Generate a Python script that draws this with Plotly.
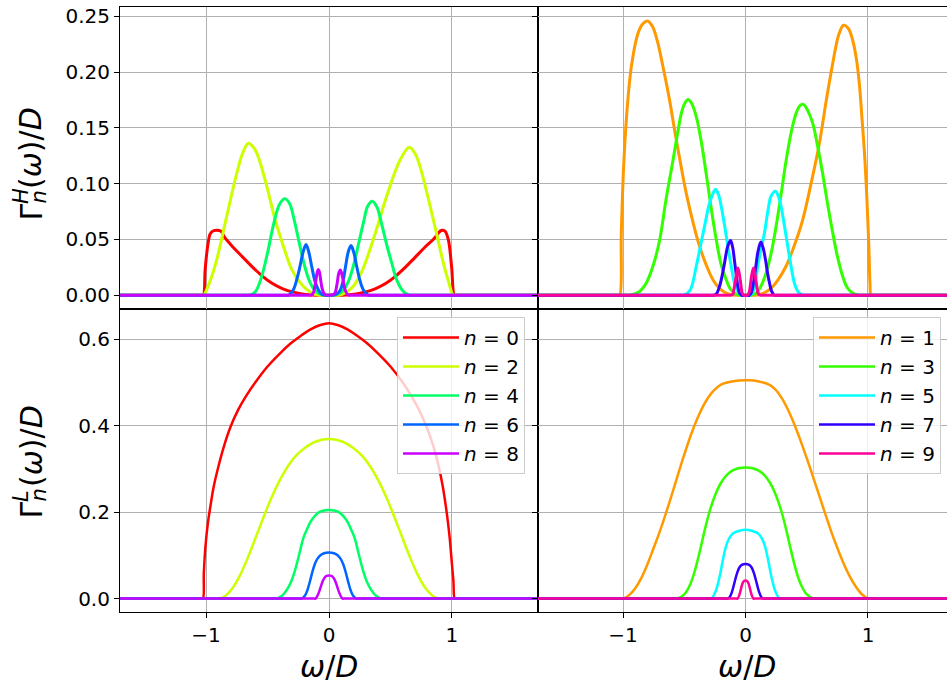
import plotly.graph_objects as go

# ---------------------------------------------------------------------------
# Hybridisation functions of the first Wilson-chain sites, split into the
# "high" (H) and "low" (L) energy parts.  Values given as (omega/D, Gamma/D).
# ---------------------------------------------------------------------------
xticks = [-1, 0, 1]
yticks_H = [0.00, 0.05, 0.10, 0.15, 0.20, 0.25]
yticks_L = [0.0, 0.2, 0.4, 0.6]

# ---- Gamma^H, even sites ----
w_H0 = [-1.7, -1.035, -1.022, -1.008, -0.994, -0.98, -0.967, -0.94, -0.913, -0.88, -0.85, -0.78, -0.70, -0.62,
        -0.54, -0.46, -0.38, -0.30, -0.22, -0.14, -0.07, 0.0, 0.07, 0.14, 0.22, 0.30, 0.38, 0.46, 0.54, 0.62,
        0.70, 0.78, 0.848, 0.913, 0.943, 0.970, 0.997, 1.019, 1.03, 1.7]
g_H0 = [0.0, 0.0, 0.0, 0.022, 0.038, 0.049, 0.055, 0.0578, 0.0583, 0.0575, 0.052, 0.043, 0.034, 0.025,
        0.017, 0.0105, 0.006, 0.003, 0.0012, 0.0003, 0.0, 0.0, 0.0, 0.0003, 0.0012, 0.003, 0.006, 0.0105, 0.017,
        0.025, 0.034, 0.043, 0.050, 0.058, 0.0574, 0.050, 0.026, 0.0, 0.0, 0.0]

w_H2 = [-1.7, -1.03, -1.02, -0.97, -0.913, -0.832, -0.75, -0.70, -0.656, -0.61, -0.575, -0.506, -0.439, -0.371,
        -0.303, -0.236, -0.18, -0.13, -0.08, -0.06, 0.0, 0.06, 0.08, 0.13, 0.198, 0.27, 0.333, 0.40, 0.469,
        0.577, 0.653, 0.70, 0.74, 0.848, 0.93, 0.97, 1.01, 1.02, 1.7]
g_H2 = [0.0, 0.0, 0.0, 0.012, 0.032, 0.0708, 0.1095, 0.128, 0.1363, 0.132, 0.124, 0.0976, 0.068, 0.044,
        0.023, 0.0116, 0.005, 0.0015, 0.0, 0.0, 0.0, 0.0, 0.0, 0.002, 0.008, 0.022, 0.041, 0.064, 0.0887,
        0.121, 0.1327, 0.127, 0.1155, 0.068, 0.029, 0.013, 0.0, 0.0, 0.0]

w_H4 = [-1.7, -0.66, -0.65, -0.60, -0.55, -0.50, -0.45, -0.40, -0.358, -0.32, -0.28, -0.24, -0.20, -0.16,
        -0.12, -0.08, -0.04, 0.0, 0.04, 0.08, 0.12, 0.16, 0.20, 0.24, 0.28, 0.315, 0.352, 0.39, 0.43, 0.47,
        0.51, 0.55, 0.60, 0.65, 0.66, 1.7]
g_H4 = [0.0, 0.0, 0.0, 0.003, 0.016, 0.038, 0.064, 0.082, 0.0864, 0.082, 0.066, 0.046, 0.027, 0.013,
        0.005, 0.0015, 0.0003, 0.0, 0.0003, 0.0015, 0.005, 0.013, 0.027, 0.046, 0.065, 0.080, 0.0843, 0.079,
        0.063, 0.045, 0.029, 0.014, 0.004, 0.0, 0.0, 0.0]

w_H6 = [-1.7, -0.34, -0.33, -0.29, -0.26, -0.236, -0.21, -0.187, -0.165, -0.141, -0.115, -0.087, -0.06,
        -0.03, 0.0, 0.03, 0.06, 0.089, 0.115, 0.135, 0.157, 0.179, 0.20, 0.225, 0.25, 0.279, 0.32, 0.33, 1.7]
g_H6 = [0.0, 0.0, 0.0, 0.005, 0.015, 0.026, 0.039, 0.0455, 0.039, 0.026, 0.013, 0.005, 0.001,
        0.0, 0.0, 0.0, 0.001, 0.004, 0.013, 0.026, 0.039, 0.0445, 0.039, 0.026, 0.014, 0.005, 0.0, 0.0, 0.0]

w_H8 = [-1.7, -0.16, -0.15, -0.128, -0.115, -0.106, -0.095, -0.087, -0.078, -0.068, -0.058, -0.047, -0.03,
        0.0, 0.03, 0.049, 0.06, 0.068, 0.08, 0.092, 0.102, 0.116, 0.128, 0.138, 0.157, 0.167, 1.7]
g_H8 = [0.0, 0.0, 0.0, 0.002, 0.008, 0.014, 0.021, 0.0232, 0.021, 0.014, 0.007, 0.003, 0.0005,
        0.0, 0.0005, 0.002, 0.007, 0.012, 0.020, 0.0226, 0.020, 0.013, 0.006, 0.003, 0.0, 0.0, 0.0]

# ---- Gamma^H, odd sites ----
w_H1 = [-1.7, -1.04, -1.027, -1.014, -0.995, -0.967, -0.932, -0.878, -0.84, -0.80, -0.76, -0.72, -0.674,
        -0.62, -0.579, -0.53, -0.484, -0.43, -0.375, -0.32, -0.266, -0.21, -0.158, -0.10, 0.0, 0.10, 0.15,
        0.196, 0.26, 0.331, 0.40, 0.467, 0.535, 0.603, 0.66, 0.712, 0.76, 0.80, 0.84, 0.875, 0.905, 0.929,
        0.95, 0.970, 0.985, 0.997, 1.008, 1.016, 1.024, 1.035, 1.7]
g_H1 = [0.0, 0.0, 0.0, 0.0557, 0.115, 0.166, 0.2047, 0.2345, 0.243, 0.2458, 0.241, 0.228, 0.205,
        0.175, 0.148, 0.118, 0.0915, 0.066, 0.0438, 0.027, 0.014, 0.006, 0.002, 0.0003, 0.0, 0.0003, 0.002,
        0.005, 0.013, 0.026, 0.045, 0.0676, 0.100, 0.136, 0.175, 0.2077, 0.233, 0.242, 0.239, 0.2285, 0.212,
        0.190, 0.160, 0.130, 0.100, 0.071, 0.040, 0.011, 0.0, 0.0, 0.0]

w_H3 = [-1.7, -0.96, -0.95, -0.87, -0.81, -0.75, -0.70, -0.65, -0.592, -0.55, -0.524, -0.50, -0.47, -0.44,
        -0.402, -0.36, -0.321, -0.28, -0.239, -0.20, -0.158, -0.12, -0.076, -0.03, 0.0, 0.03, 0.087, 0.13,
        0.168, 0.21, 0.25, 0.29, 0.332, 0.375, 0.413, 0.445, 0.473, 0.51, 0.549, 0.59, 0.630, 0.67, 0.712,
        0.75, 0.793, 0.83, 0.875, 0.93, 0.94, 1.7]
g_H3 = [0.0, 0.0, 0.0, 0.003, 0.011, 0.028, 0.050, 0.085, 0.121, 0.148, 0.163, 0.171, 0.1755, 0.172,
        0.160, 0.137, 0.109, 0.078, 0.050, 0.028, 0.014, 0.005, 0.001, 0.0, 0.0, 0.0, 0.002, 0.009,
        0.020, 0.038, 0.062, 0.090, 0.121, 0.147, 0.163, 0.170, 0.171, 0.165, 0.154, 0.133, 0.109, 0.082, 0.056,
        0.035, 0.017, 0.007, 0.002, 0.0, 0.0, 0.0]

w_H5 = [-1.7, -0.51, -0.50, -0.45, -0.402, -0.37, -0.334, -0.30, -0.275, -0.245, -0.22, -0.198, -0.17,
        -0.144, -0.115, -0.09, -0.06, -0.035, 0.0, 0.035, 0.06, 0.08, 0.10, 0.128, 0.155, 0.185, 0.209, 0.245,
        0.27, 0.291, 0.318, 0.345, 0.372, 0.399, 0.43, 0.467, 0.477, 1.7]
g_H5 = [0.0, 0.0, 0.0, 0.005, 0.026, 0.043, 0.062, 0.080, 0.0885, 0.095, 0.090, 0.0796, 0.062,
        0.044, 0.025, 0.011, 0.003, 0.0, 0.0, 0.0, 0.003, 0.011, 0.026, 0.042, 0.056, 0.077, 0.089, 0.0933,
        0.088, 0.0793, 0.062, 0.044, 0.026, 0.011, 0.003, 0.0, 0.0, 0.0]

w_H7 = [-1.7, -0.27, -0.26, -0.239, -0.212, -0.19, -0.171, -0.145, -0.122, -0.105, -0.09, -0.075, -0.0625,
        -0.049, -0.03, 0.0, 0.03, 0.046, 0.06, 0.073, 0.087, 0.10, 0.125, 0.145, 0.163, 0.18, 0.196, 0.212,
        0.235, 0.245, 1.7]
g_H7 = [0.0, 0.0, 0.0, 0.001, 0.008, 0.018, 0.029, 0.044, 0.049, 0.043, 0.031, 0.018, 0.008,
        0.002, 0.0, 0.0, 0.0, 0.002, 0.008, 0.017, 0.028, 0.038, 0.0477, 0.042, 0.032, 0.020, 0.011, 0.004,
        0.0, 0.0, 0.0]

w_H9 = [-1.7, -0.13, -0.12, -0.103, -0.095, -0.085, -0.076, -0.0625, -0.052, -0.043, -0.035, -0.027, -0.015,
        0.0, 0.015, 0.027, 0.033, 0.041, 0.049, 0.065, 0.075, 0.084, 0.092, 0.10, 0.109, 0.125, 0.135, 1.7]
g_H9 = [0.0, 0.0, 0.0, 0.001, 0.005, 0.011, 0.017, 0.0244, 0.020, 0.014, 0.007, 0.002, 0.0,
        0.0, 0.0, 0.002, 0.004, 0.010, 0.017, 0.0244, 0.020, 0.014, 0.008, 0.003, 0.001, 0.0, 0.0, 0.0]

# ---- Gamma^L, even sites ----
w_L0 = [-1.7, -1.035, -1.025, -1.018, -1.005, -0.985, -0.96, -0.94, -0.90, -0.857, -0.80, -0.74, -0.68,
        -0.60, -0.50, -0.40, -0.313, -0.22, -0.15, -0.07, 0.0, 0.07, 0.15, 0.22, 0.30, 0.40, 0.50, 0.60,
        0.68, 0.74, 0.80, 0.857, 0.889, 0.925, 0.957, 0.98, 1.0, 1.012, 1.022, 1.032, 1.7]
g_L0 = [0.0, 0.0, 0.0, 0.06, 0.12, 0.175, 0.222, 0.256, 0.305, 0.350, 0.398, 0.436, 0.466,
        0.500, 0.537, 0.567, 0.590, 0.610, 0.623, 0.633, 0.637, 0.633, 0.623, 0.610, 0.593, 0.567, 0.537, 0.500,
        0.464, 0.432, 0.393, 0.345, 0.310, 0.260, 0.200, 0.145, 0.080, 0.040, 0.0, 0.0, 0.0]

w_L2 = [-1.7, -0.91, -0.90, -0.85, -0.79, -0.72, -0.65, -0.59, -0.53, -0.47, -0.40, -0.33, -0.27, -0.20,
        -0.10, 0.0, 0.10, 0.20, 0.27, 0.33, 0.40, 0.47, 0.53, 0.59, 0.65, 0.72, 0.79, 0.85, 0.90, 0.91, 1.7]
g_L2 = [0.0, 0.0, 0.0, 0.005, 0.022, 0.056, 0.102, 0.146, 0.190, 0.232, 0.274, 0.308, 0.330, 0.348,
        0.364, 0.369, 0.364, 0.348, 0.330, 0.308, 0.274, 0.232, 0.190, 0.146, 0.102, 0.056, 0.022, 0.005, 0.0,
        0.0, 0.0]

w_L4 = [-1.7, -0.435, -0.425, -0.38, -0.344, -0.31, -0.276, -0.24, -0.209, -0.175, -0.141, -0.073, 0.0,
        0.073, 0.141, 0.175, 0.209, 0.24, 0.276, 0.31, 0.344, 0.38, 0.425, 0.435, 1.7]
g_L4 = [0.0, 0.0, 0.0, 0.007, 0.020, 0.038, 0.066, 0.105, 0.140, 0.163, 0.182, 0.201, 0.205,
        0.201, 0.182, 0.163, 0.140, 0.105, 0.066, 0.038, 0.020, 0.007, 0.0, 0.0, 0.0]

w_L6 = [-1.7, -0.232, -0.222, -0.195, -0.175, -0.155, -0.135, -0.115, -0.095, -0.07, -0.04, 0.0, 0.04, 0.07,
        0.095, 0.115, 0.135, 0.155, 0.175, 0.195, 0.222, 0.232, 1.7]
g_L6 = [0.0, 0.0, 0.0, 0.007, 0.020, 0.040, 0.062, 0.080, 0.092, 0.1005, 0.105, 0.1064, 0.105, 0.1005,
        0.092, 0.080, 0.062, 0.040, 0.020, 0.007, 0.0, 0.0, 0.0]

w_L8 = [-1.7, -0.12, -0.11, -0.095, -0.08, -0.065, -0.05, -0.035, -0.02, 0.0, 0.02, 0.035, 0.05, 0.065,
        0.08, 0.095, 0.11, 0.12, 1.7]
g_L8 = [0.0, 0.0, 0.0, 0.006, 0.016, 0.029, 0.041, 0.049, 0.0525, 0.0532, 0.0525, 0.049, 0.041, 0.029,
        0.016, 0.006, 0.0, 0.0, 0.0]

# ---- Gamma^L, odd sites ----
w_L1 = [-1.7, -1.01, -1.0, -0.95, -0.90, -0.85, -0.80, -0.75, -0.70, -0.65, -0.60, -0.55, -0.50, -0.45,
        -0.40, -0.35, -0.30, -0.25, -0.20, -0.10, 0.03, 0.10, 0.20, 0.25, 0.30, 0.35, 0.40, 0.45, 0.50,
        0.55, 0.60, 0.65, 0.70, 0.75, 0.80, 0.85, 0.90, 0.95, 1.0, 1.01, 1.7]
g_L1 = [0.0, 0.0, 0.0, 0.008, 0.024, 0.048, 0.080, 0.117, 0.155, 0.197, 0.242, 0.288, 0.333, 0.375,
        0.412, 0.443, 0.467, 0.484, 0.495, 0.503, 0.505, 0.503, 0.494, 0.482, 0.462, 0.435, 0.402, 0.365, 0.325,
        0.283, 0.240, 0.197, 0.155, 0.117, 0.082, 0.052, 0.028, 0.010, 0.0, 0.0, 0.0]

w_L3 = [-1.7, -0.57, -0.56, -0.50, -0.45, -0.41, -0.37, -0.33, -0.29, -0.25, -0.20, -0.15, -0.10, -0.05,
        0.0, 0.05, 0.10, 0.15, 0.20, 0.25, 0.29, 0.33, 0.37, 0.41, 0.45, 0.50, 0.56, 0.57, 1.7]
g_L3 = [0.0, 0.0, 0.0, 0.010, 0.034, 0.068, 0.113, 0.162, 0.205, 0.238, 0.268, 0.287, 0.297, 0.302,
        0.3035, 0.302, 0.297, 0.287, 0.268, 0.238, 0.205, 0.162, 0.113, 0.068, 0.034, 0.010, 0.0, 0.0, 0.0]

w_L5 = [-1.7, -0.29, -0.28, -0.245, -0.212, -0.185, -0.158, -0.13, -0.10, -0.05, 0.0, 0.05, 0.10, 0.13,
        0.158, 0.185, 0.212, 0.245, 0.28, 0.29, 1.7]
g_L5 = [0.0, 0.0, 0.0, 0.016, 0.050, 0.089, 0.122, 0.141, 0.151, 0.157, 0.159, 0.157, 0.151, 0.141,
        0.122, 0.089, 0.050, 0.016, 0.0, 0.0, 0.0]

w_L7 = [-1.7, -0.155, -0.145, -0.13, -0.11, -0.09, -0.07, -0.05, -0.03, 0.0, 0.03, 0.05, 0.07, 0.09, 0.11,
        0.13, 0.145, 0.155, 1.7]
g_L7 = [0.0, 0.0, 0.0, 0.003, 0.016, 0.037, 0.058, 0.072, 0.078, 0.080, 0.078, 0.072, 0.058, 0.037, 0.016,
        0.003, 0.0, 0.0, 0.0]

w_L9 = [-1.7, -0.075, -0.065, -0.052, -0.04, -0.027, -0.015, 0.0, 0.015, 0.027, 0.04, 0.052, 0.065, 0.075, 1.7]
g_L9 = [0.0, 0.0, 0.0, 0.007, 0.019, 0.033, 0.040, 0.0417, 0.040, 0.033, 0.019, 0.007, 0.0, 0.0, 0.0]

site_colors = ["#ff0000", "#ff9900", "#ccff00", "#33ff00", "#00ff66",
               "#00ffff", "#0066ff", "#3300ff", "#cc00ff", "#ff0099"]

high_curves = {0: (w_H0, g_H0), 1: (w_H1, g_H1), 2: (w_H2, g_H2), 3: (w_H3, g_H3), 4: (w_H4, g_H4),
               5: (w_H5, g_H5), 6: (w_H6, g_H6), 7: (w_H7, g_H7), 8: (w_H8, g_H8), 9: (w_H9, g_H9)}
low_curves = {0: (w_L0, g_L0), 1: (w_L1, g_L1), 2: (w_L2, g_L2), 3: (w_L3, g_L3), 4: (w_L4, g_L4),
              5: (w_L5, g_L5), 6: (w_L6, g_L6), 7: (w_L7, g_L7), 8: (w_L8, g_L8), 9: (w_L9, g_L9)}

# ---------------------------------------------------------------------------
# Geometry (pixels): plot block spans x 120..947, y 7..612; panels split at 538 / 309
# ---------------------------------------------------------------------------
W, H = 947, 684
ML, MR, MT, MB = 120, 0, 7, 72
XSPLIT, YSPLIT = 538, 309
PW, PH = W - ML - MR, H - MT - MB


def px_x(px):
    return (px - ML) / PW


def px_y(py):
    return (H - MB - py) / PH


col1 = [0, px_x(XSPLIT)]
col2 = [px_x(XSPLIT), 1]
row_bot = [0, px_y(YSPLIT)]
row_top = [px_y(YSPLIT), 1]

FONT = "DejaVu Sans"
TICKFS = 20
TITLEFS = 30
SUBFS = 21

fig = go.Figure()

# axis ids: (x, y) for each panel
panels = {
    ("H", 0): ("x3", "y3"),
    ("H", 1): ("x4", "y4"),
    ("L", 0): ("x", "y"),
    ("L", 1): ("x2", "y2"),
}

for n in range(10):
    col = n % 2
    xa, ya = panels[("H", col)]
    w, g = high_curves[n]
    fig.add_trace(go.Scatter(
        x=w, y=g, mode="lines", xaxis=xa, yaxis=ya, showlegend=False,
        line=dict(color=site_colors[n], width=3.0, shape="spline", smoothing=1.0),
        hoverinfo="skip"))

for n in range(10):
    col = n % 2
    xa, ya = panels[("L", col)]
    w, g = low_curves[n]
    fig.add_trace(go.Scatter(
        x=w, y=g, mode="lines", xaxis=xa, yaxis=ya,
        name=f"<i>n</i> = {n}", legend="legend" if col == 0 else "legend2",
        legendgroup=f"n{n}",
        line=dict(color=site_colors[n], width=2.5, shape="spline", smoothing=1.0),
        hoverinfo="skip"))

grid = dict(showgrid=True, gridcolor="#b0b0b0", gridwidth=1, zeroline=False)
spine = dict(showline=True, linecolor="black", linewidth=1.1)
tickstyle = dict(ticks="outside", ticklen=5, tickwidth=1.1, tickcolor="black",
                 tickfont=dict(family=FONT, size=TICKFS, color="black"))

xr_left = [-1.7, 1.7]
xr_right = [-1.694, 1.645]
yr_H = [-0.0123, 0.2583]
yr_L = [-0.031, 0.670]

fig.update_layout(
    width=W, height=H, autosize=False,
    margin=dict(l=ML, r=MR, t=MT, b=MB, pad=0),
    paper_bgcolor="white", plot_bgcolor="white",
    font=dict(family=FONT, color="black"),
    xaxis=dict(domain=col1, range=xr_left, anchor="y", tickvals=xticks, mirror=True, **grid, **spine, **tickstyle),
    xaxis2=dict(domain=col2, range=xr_right, anchor="y2", tickvals=xticks, mirror=True, **grid, **spine, **tickstyle),
    xaxis3=dict(domain=col1, range=xr_left, anchor="y3", tickvals=xticks, mirror=True, showticklabels=False,
                **grid, **spine),
    xaxis4=dict(domain=col2, range=xr_right, anchor="y4", tickvals=xticks, mirror=True, showticklabels=False,
                **grid, **spine),
    yaxis=dict(domain=row_bot, range=yr_L, anchor="x", tickvals=yticks_L, tickformat=".1f", mirror=True,
               **grid, **spine, **tickstyle),
    yaxis2=dict(domain=row_bot, range=yr_L, anchor="x2", tickvals=yticks_L, showticklabels=False,
                **grid, **spine, **tickstyle),
    yaxis3=dict(domain=row_top, range=yr_H, anchor="x3", tickvals=yticks_H, tickformat=".2f", mirror=True,
                **grid, **spine, **tickstyle),
    yaxis4=dict(domain=row_top, range=yr_H, anchor="x4", tickvals=yticks_H, showticklabels=False,
                **grid, **spine, **tickstyle),
)

legend_style = dict(
    xanchor="left", yanchor="top",
    bgcolor="rgba(255,255,255,0.8)", bordercolor="#cccccc", borderwidth=1,
    font=dict(family=FONT, size=20, color="black"),
    tracegroupgap=8.2, itemwidth=56, traceorder="normal",
)
fig.update_layout(
    legend=dict(x=px_x(397), y=px_y(317), **legend_style),
    legend2=dict(x=px_x(813), y=px_y(317), **legend_style),
)

# axis titles
ann = []
for cx in (329, 747):
    ann.append(dict(x=px_x(cx), y=px_y(666), xref="paper", yref="paper", showarrow=False,
                    text="<i>ω</i>/<i>D</i>", font=dict(family=FONT, size=TITLEFS, color="black"),
                    xanchor="center", yanchor="middle"))


def rotated_piece(text, cx, y_start, size):
    """Vertical (reading upwards) text piece whose first glyph sits at screen y = y_start."""
    return dict(x=px_x(cx), y=px_y(y_start), xref="paper", yref="paper", showarrow=False,
                text=text, textangle=-90, font=dict(family=FONT, size=size, color="black"),
                xanchor="center", yanchor="bottom", borderpad=0)


# Γ_n^X(ω)/D with the sub- and superscript stacked after Γ
for y0, sup in ((222, "H"), (520, "L")):
    ann.append(rotated_piece("Γ", 31, y0, TITLEFS))
    ann.append(rotated_piece("<i>n</i>", 38, y0 - 17, SUBFS))
    ann.append(rotated_piece(f"<i>{sup}</i>", 21, y0 - 17, SUBFS))
    ann.append(rotated_piece("(<i>ω</i>)/<i>D</i>", 31, y0 - 32, TITLEFS))

fig.update_layout(annotations=ann)

fig.write_html("out.html")
